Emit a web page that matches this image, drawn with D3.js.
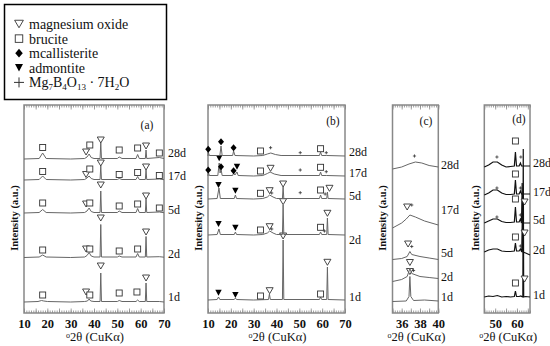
<!DOCTYPE html>
<html>
<head>
<meta charset="utf-8">
<script src="https://cdn.jsdelivr.net/npm/d3@7"></script>
<style>
  body { margin: 0; background: #fff; }
  text { font-family: "Liberation Serif", "Times New Roman", serif; fill: #111; }
</style>
</head>
<body>
<div id="chart"></div>
<script>
// sample ages, bottom trace first
var samples = ["1d", "2d", "5d", "17d", "28d"];

// stacking offsets of each trace (a.u.)
var offsetsA = [11, 55.5, 100, 133, 154];
var offsetsB = [13, 78, 114, 137, 157];
var offsetsC = [11.5, 31.5, 53.5, 85, 144];
var offsetsD = [16, 61, 90, 118, 146];

// patterns: [2theta, intensity above baseline]
var patternA = [
  [[10,0],[16,0.5],[17.5,1.5],[18.5,1],[20,0.5],[30,0],[36,0.5],[37.2,1],[37.9,3],[38.6,1],[40,0.5],[42.6,0.5],[42.9,29],[43.2,0.5],[50,0.5],[50.8,1.5],[52,0.5],[58,0.5],[58.7,2],[59.4,0.5],[62,0.5],[62.3,19],[62.6,0.5],[68,0.5],[70,0]],
  [[10,0],[16.5,0.5],[18,2.5],[19.5,0.5],[30,0],[36,0.5],[37,2],[37.9,5],[38.8,1.5],[40,0.5],[42.6,0.5],[42.9,33],[43.2,0.5],[50,0.5],[50.8,1.5],[52,0.5],[58,0.5],[58.7,4],[59.4,0.5],[62,0.5],[62.3,21],[62.6,0.5],[68,0.8],[70,0.3]],
  [[10,0],[16.5,0.5],[18,3.5],[19.5,0.5],[30,0],[36,0.5],[37,2],[37.9,5],[38.8,1.5],[40,0.5],[42.6,0.5],[42.9,22],[43.2,0.5],[50,0.5],[50.8,2],[52,0.5],[58,0.5],[58.7,4.5],[59.4,0.5],[62,0.5],[62.3,14],[62.6,0.5],[68,1],[70,0.3]],
  [[10,0],[16.5,0.5],[18,4],[19.5,0.5],[30,0],[36,0.5],[37,2],[37.9,4],[38.8,1.5],[40,0.5],[42.6,0.5],[42.9,14],[43.2,0.5],[50,0.5],[50.8,1.5],[52,0.5],[58,0.5],[58.7,3.5],[59.4,0.5],[62,0.5],[62.3,10],[62.6,0.5],[68,1],[70,0.3]],
  [[10,0],[16.5,0.5],[18,6],[19.5,0.5],[30,0],[36,0.5],[37,2],[37.9,5],[38.8,1.5],[40,0.5],[42.6,0.5],[42.9,16],[43.2,0.5],[50,0.5],[50.8,2],[52,0.5],[58,0.5],[58.7,4.5],[59.4,0.5],[62,0.5],[62.3,9],[62.6,0.5],[68,1.5],[70,0.5]]
];
var patternB = [
  [[10,0],[14,0.5],[14.6,3],[15.2,0.5],[21.5,0.5],[22,2],[22.5,0.5],[30,0],[36.5,0.5],[36.9,6],[37.3,0.5],[42.6,0.5],[42.9,60],[43.2,0.5],[58.8,0.5],[59.3,3],[59.8,0.5],[62,0.5],[62.3,33],[62.6,0.5],[70,0]],
  [[10,0],[14,0.5],[14.8,6],[15.4,0.5],[21.5,0.5],[22,3],[22.5,0.5],[30,0],[34,0.5],[36,2],[37,4],[38.5,2],[40,0.5],[42.6,0.5],[42.9,30],[43.2,0.5],[58.8,0.5],[59.3,3],[59.8,0.5],[62,0.5],[62.3,17],[62.6,0.5],[70,0]],
  [[10,0],[14,0.5],[14.8,11],[15.4,0.5],[21.5,0.5],[22,4],[22.5,0.5],[30,0],[34,0.5],[36,2],[37,4],[38.5,2],[40,0.5],[42.6,0.5],[42.9,12],[43.2,0.5],[58.8,0.5],[59.3,4],[59.8,0.5],[62,0.5],[62.3,7],[62.6,0.5],[70,0]],
  [[10,0],[10.1,4],[10.6,0.5],[14.3,0.5],[14.9,13],[15.3,3],[15.7,7],[16.2,0.5],[20.8,0.5],[21.2,3],[21.8,1],[22.7,4],[23.2,0.5],[30,0],[34,0.5],[36,2.5],[37.2,4],[39,2],[42,0.5],[58.8,0.5],[59.3,4],[59.8,0.5],[62,0.5],[70,0]],
  [[10,0],[10.1,4],[10.6,0.5],[15.2,0.5],[15.7,10],[16.2,0.5],[20.8,0.5],[21.2,5],[21.8,0.5],[30,0],[34,0.5],[36,2],[37.5,3],[39.5,1.5],[42,0.5],[58.8,0.5],[59.3,4],[59.8,0.5],[62,0.5],[70,0]]
];
var patternC = [
  [[35,0],[36.5,0.5],[36.8,5],[36.9,25],[37.0,5],[37.3,1],[38.5,1.5],[40,0.5]],
  [[35,0],[36,2],[36.6,5],[36.9,13],[37.1,8],[38,5],[39,4],[40,3]],
  [[35,0],[36,1],[36.6,3],[36.9,8],[37.1,5],[38,3],[39,1.5],[40,0]],
  [[35,0],[36,5],[36.5,9],[36.9,13],[37.5,11],[38.5,7],[40,3]],
  [[35,0],[36,2],[36.8,5],[37.5,7],[38.2,6],[39,3.5],[40,2]]
];
var patternD = [
  [[45,0],[47,1],[49,0.5],[51,1.5],[53,0],[55,0.5],[57,0],[58.8,0.5],[59.3,6],[59.8,0.5],[61,0.5],[61.8,1],[62.5,0],[62.7,0],[62.9,148],[63.1,0],[64,0.5],[66,0]],
  [[45,0],[47,2],[49,3],[51,3],[53,1],[55,0.5],[57,0.5],[58.8,1],[59.3,9],[59.8,1],[61,1],[61.6,3],[62.2,0],[62.5,40],[62.8,0],[64,-1],[66,-3]],
  [[45,0],[47,2],[49,4],[51,4],[53,1.5],[55,0.5],[57,0.5],[58.8,1],[59.3,16],[59.8,1],[61,1],[61.6,4],[62.1,0],[62.4,40],[62.7,0],[64,0],[66,0]],
  [[45,0],[47,2],[49,5],[51,5],[53,2],[55,0.5],[57,0.5],[58.8,1],[59.3,15],[59.8,1],[61,1],[61.6,4],[62.1,1],[64,1],[66,1]],
  [[45,0],[47,2],[49,5],[51,5],[53,2],[55,0],[57,0.5],[58.8,1],[59.3,15],[59.8,1],[61,1],[61.6,4],[62.1,1],[64,1],[66,1]]
];

// phase markers: [type, 2theta, height above baseline]
// m magnesium oxide, b brucite, c mcallisterite, a admontite, p Mg7B4O13.7H2O
var markersA = [
  [["b",18,7],["m",36.6,10],["b",38.2,7],["m",42.9,36],["b",50.8,9],["b",58.4,10],["m",62.3,24]],
  [["b",18,7.5],["m",36.6,8.5],["b",38.2,8.5],["m",42.9,39.5],["b",50.8,6.5],["b",58.7,8.5],["m",62.3,25.5]],
  [["b",18,10],["m",36.6,9],["b",38.2,10],["m",42.9,28],["b",50.8,7],["b",58.7,9],["m",62.3,17],["b",68,5]],
  [["b",18,8.5],["m",36.6,5.5],["b",38.2,11],["m",42.9,17],["b",50.8,5.5],["b",58.7,7.5],["m",62.3,13],["b",68,4.5]],
  [["b",18,11.5],["m",36.6,7],["b",38.2,14],["m",42.9,19],["b",50.8,9],["b",58.7,11],["m",62.3,13],["b",68,6]]
];
var markersB = [
  [["a",14.6,7.3],["a",22,5],["b",33,4],["m",37,9.3],["m",42.9,64],["b",59.3,6],["m",62.3,37.7]],
  [["a",14.6,11],["a",22,7.3],["b",33,5],["m",37,8.3],["p",37.9,6],["m",42.9,33.3],["b",59.3,7.7],["p",61,4],["m",62.3,21.7]],
  [["a",14.6,14],["a",22,8.3],["b",33,5.7],["m",37,8.3],["p",37.9,6],["m",42.9,15],["p",50.4,6.3],["b",59.3,9],["p",61.3,5],["m",63.2,10.7]],
  [["c",10.1,6],["a",14.9,17.7],["c",15.7,9.3],["c",21.2,5.3],["a",22.7,9.3],["b",33,5],["m",37.4,7.7],["p",50.4,6],["b",59.3,8.7],["p",61.8,4.3]],
  [["c",10.1,6.7],["c",15.7,14.3],["c",21.2,8.3],["b",33,5],["p",37.4,8.3],["p",50.4,3.3],["b",59.3,7.3],["p",61.8,3.3]]
];
var markersC = [
  [["m",36.9,30]],
  [["m",36.9,19],["p",37.3,11]],
  [["m",36.7,15.5],["p",37.1,13]],
  [["m",36.6,21],["p",37.1,23]],
  [["p",37.4,13]]
];
var markersD = [
  [["b",59.3,14],["m",63.5,18]],
  [["b",59.3,15],["p",61.6,6],["m",63.5,19]],
  [["p",50.8,6],["b",59.3,24],["p",61.6,8],["m",63.5,21]],
  [["p",50.8,7],["b",59.3,21],["p",61.6,7]],
  [["p",50.8,10],["b",59.3,26],["p",61.8,10]]
];

// tick labels per panel
var tickLabelsA = [10, 20, 30, 40, 50, 60, 70];
var tickLabelsB = [10, 20, 30, 40, 50, 60, 70];
var tickLabelsC = [36, 38, 40];
var tickLabelsD = [50, 60];

var legendItems = ["m", "b", "c", "a", "p"];
var legendNames = ["magnesium oxide", "brucite", "mcallisterite", "admontite", null];

var serif = "Liberation Serif, Times New Roman, serif";
var svgWidth = 550;
var svgHeight = 346;

var svg = d3.select("#chart")
  .append("svg")
  .attr("width", svgWidth)
  .attr("height", svgHeight);

var frameTop = 105;
var frameBottom = 313;

// panel layout
var panels = [
  { name: "(a)", x0: 24, x1: 164, domain: [10, 70], minor: 1, mid: 5, ticks: tickLabelsA, offsets: offsetsA, pattern: patternA, markers: markersA,
    labelX: 168, labelY: [297, 254, 210, 176, 153], tagX: 147, tagY: 125, ylabX: 14, color: "#666", width: 1 },
  { name: "(b)", x0: 208, x1: 345, domain: [10, 70], minor: 1, mid: 5, ticks: tickLabelsB, offsets: offsetsB, pattern: patternB, markers: markersB,
    labelX: 349, labelY: [297, 240, 196, 173, 152], tagX: 333, tagY: 121, ylabX: 198, color: "#666", width: 1 },
  { name: "(c)", x0: 392.5, x1: 438.3, domain: [35, 40], minor: 0.25, mid: 1, ticks: tickLabelsC, offsets: offsetsC, pattern: patternC, markers: markersC,
    labelX: 441, labelY: [297, 277, 253, 210, 165], tagX: 426, tagY: 121, ylabX: 382, color: "#666", width: 1 },
  { name: "(d)", x0: 484.3, x1: 530, domain: [45, 66], minor: 1, mid: 5, ticks: tickLabelsD, offsets: offsetsD, pattern: patternD, markers: markersD,
    labelX: 533, labelY: [295, 250, 220, 192, 163], tagX: 519, tagY: 119, ylabX: 475, color: "#111", width: 1.2 }
];

var yScale = d3.scaleLinear().domain([0, 208]).range([frameBottom, frameTop]);

function drawMarker(g, type, cx, cy, big) {
  var s = big ? 1.25 : 1;
  if (type === "m") {
    g.append("path")
      .attr("d", `M${cx - 3.5 * s},${cy - 3 * s}L${cx + 3.5 * s},${cy - 3 * s}L${cx},${cy + 3 * s}Z`)
      .attr("fill", "#fff").attr("stroke", "#333").attr("stroke-width", 0.9);
  } else if (type === "b") {
    g.append("rect")
      .attr("x", cx - 3 * s).attr("y", cy - 3 * s)
      .attr("width", 6 * s).attr("height", 6 * s)
      .attr("fill", "#fff").attr("stroke", "#333").attr("stroke-width", 0.9);
  } else if (type === "c") {
    g.append("path")
      .attr("d", `M${cx},${cy - 3.5 * s}L${cx + 3 * s},${cy}L${cx},${cy + 3.5 * s}L${cx - 3 * s},${cy}Z`)
      .attr("fill", "#000");
  } else if (type === "a") {
    g.append("path")
      .attr("d", `M${cx - 3.2 * s},${cy - 3 * s}L${cx + 3.2 * s},${cy - 3 * s}L${cx},${cy + 3 * s}Z`)
      .attr("fill", "#000");
  } else {
    var h = big ? 5 : 1.6;
    g.append("path")
      .attr("d", `M${cx - h},${cy}L${cx + h},${cy}M${cx},${cy - h}L${cx},${cy + h}`)
      .attr("stroke", "#333").attr("stroke-width", big ? 1 : 0.8);
  }
}

panels.forEach(function(p) {
  var x = d3.scaleLinear().domain(p.domain).range([p.x0, p.x1]);
  var g = svg.append("g");

  // ticks, inward on top and bottom
  var minorVals = d3.range(p.domain[0], p.domain[1] + 1e-6, p.minor);
  var midVals = d3.range(p.domain[0], p.domain[1] + 1e-6, p.mid);

  [[d3.axisBottom, frameBottom], [d3.axisTop, frameTop]].forEach(function(a) {
    var minorAxis = a[0](x).tickValues(minorVals).tickSize(-2.5).tickFormat("");
    var midAxis = a[0](x).tickValues(midVals).tickSize(-4.5).tickFormat("");
    [minorAxis, midAxis].forEach(function(ax) {
      var ag = g.append("g").attr("transform", `translate(0, ${a[1]})`).call(ax);
      ag.select(".domain").remove();
      ag.selectAll("line").attr("stroke", "#888").attr("stroke-width", 0.8);
    });
  });

  var labelAxis = d3.axisBottom(x).tickValues(p.ticks).tickSize(0).tickPadding(6).tickFormat(d3.format("d"));
  var lg = g.append("g").attr("transform", `translate(0, ${frameBottom})`).call(labelAxis);
  lg.select(".domain").remove();
  lg.selectAll("text")
    .attr("font-family", serif)
    .attr("font-size", 12.5)
    .attr("font-weight", "bold")
    .attr("fill", "#111");

  // frame
  g.append("rect")
    .attr("x", p.x0).attr("y", frameTop)
    .attr("width", p.x1 - p.x0).attr("height", frameBottom - frameTop)
    .attr("fill", "none").attr("stroke", "#888").attr("stroke-width", 1.5);

  var line = d3.line()
    .x(d => x(d[0]))
    .y(d => d[1]);

  p.pattern.forEach(function(pts, i) {
    var off = p.offsets[i];
    g.append("path")
      .attr("d", line(pts.map(d => [d[0], yScale(off + d[1])])))
      .attr("fill", "none")
      .attr("stroke", p.color)
      .attr("stroke-width", p.width);

    p.markers[i].forEach(function(m) {
      drawMarker(g, m[0], x(m[1]), yScale(off + m[2]), false);
    });

    g.append("text")
      .attr("x", p.labelX)
      .attr("y", p.labelY[i])
      .attr("dy", "0.35em")
      .attr("font-family", serif)
      .attr("font-size", 12)
      .text(samples[i]);
  });

  g.append("text")
    .attr("x", p.tagX).attr("y", p.tagY)
    .attr("dy", "0.35em")
    .attr("text-anchor", "middle")
    .attr("font-family", serif)
    .attr("font-size", 11.5)
    .text(p.name);

  g.append("text")
    .attr("transform", `translate(${p.ylabX}, 218) rotate(-90)`)
    .attr("text-anchor", "middle")
    .attr("dy", "0.35em")
    .attr("font-family", serif)
    .attr("font-size", 10.5)
    .attr("font-weight", "bold")
    .text("Intensity (a.u.)");

  var xl = g.append("text")
    .attr("x", (p.x0 + p.x1) / 2 + 1)
    .attr("y", 339)
    .attr("dy", "0.35em")
    .attr("text-anchor", "middle")
    .attr("font-family", serif)
    .attr("font-size", 12.5);
  xl.append("tspan").attr("font-size", 8).attr("dy", "-0.1em").text("o");
  xl.append("tspan").attr("dy", "0.25em").text("2θ (CuKα)");
});

// legend
var legend = svg.append("g");
legend.append("rect")
  .attr("x", 4.5).attr("y", 4.5)
  .attr("width", 162).attr("height", 95)
  .attr("fill", "#fff").attr("stroke", "#000").attr("stroke-width", 1.5);

legendItems.forEach(function(t, i) {
  var cy = 24 + i * 14.6;
  drawMarker(legend, t, 19, cy, true);
  var txt = legend.append("text")
    .attr("x", 29).attr("y", cy)
    .attr("dy", "0.35em")
    .attr("font-family", serif)
    .attr("font-size", 14);
  if (legendNames[i]) {
    txt.text(legendNames[i]);
  } else {
    txt.append("tspan").text("Mg");
    txt.append("tspan").attr("font-size", 9).attr("dy", 3).text("7");
    txt.append("tspan").attr("dy", -3).text("B");
    txt.append("tspan").attr("font-size", 9).attr("dy", 3).text("4");
    txt.append("tspan").attr("dy", -3).text("O");
    txt.append("tspan").attr("font-size", 9).attr("dy", 3).text("13");
    txt.append("tspan").attr("dy", -3).text(" \u00b7 7H");
    txt.append("tspan").attr("font-size", 9).attr("dy", 3).text("2");
    txt.append("tspan").attr("dy", -3).text("O");
  }
});
</script>
</body>
</html>
